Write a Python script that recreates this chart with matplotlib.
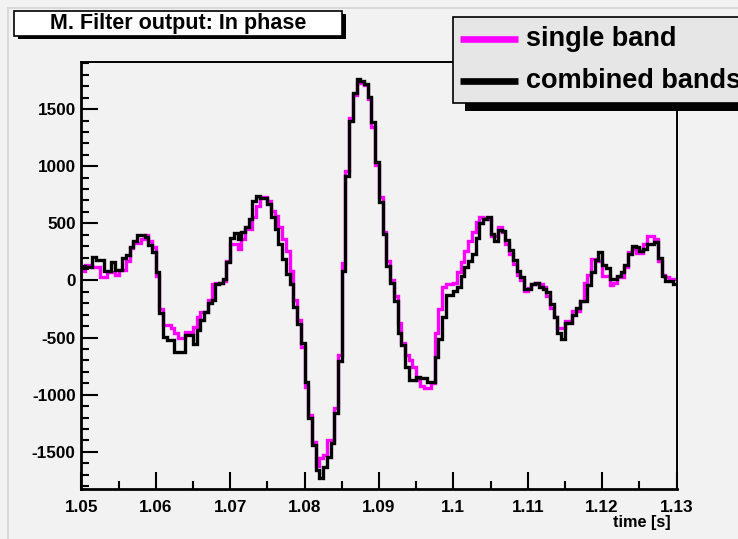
import numpy as np
import matplotlib
matplotlib.use('Agg')
import matplotlib.pyplot as plt
from matplotlib.patches import Rectangle
from matplotlib.lines import Line2D
from matplotlib.ticker import FixedLocator, MultipleLocator, FixedFormatter

# ---------------- data ----------------
t_start, t_stop = 1.05, 1.13
n_bins = 160

combined_bands = [
    123, 114, 114, 202, 175, 175, 79, 79, 158, 96,
    96, 193, 219, 289, 342, 395, 395, 377, 307, 246,
    70, -281, -491, -517, -517, -623, -623, -623, -474, -474,
    -553, -430, -342, -272, -193, -167, -35, -18, 9, 158,
    368, 412, 360, 421, 465, 535, 693, 737, 719, 719,
    667, 552, 447, 316, 184, 61, -35, -228, -377, -544,
    -886, -1201, -1438, -1658, -1728, -1631, -1544, -1421, -1158, -702,
    79, 912, 1394, 1640, 1763, 1745, 1719, 1605, 1386, 1035,
    684, 403, 123, -18, -184, -456, -561, -754, -868, -868,
    -842, -851, -851, -886, -886, -667, -509, -316, -123, -123,
    -96, -61, 35, 114, 167, 228, 368, 500, 535, 552,
    403, 342, 438, 430, 351, 263, 175, 79, 26, -79,
    -79, -35, -26, -61, -79, -105, -202, -316, -456, -509,
    -368, -368, -298, -237, -184, -184, -44, 70, 175, 246,
    132, 105, 9, 9, 35, 70, 132, 228, 298, 289,
    254, 272, 316, 316, 333, 193, 35, -9, -9, -35,
]

single_band = [
    79, 132, 132, 114, 114, 26, 26, 70, 70, 44,
    96, 96, 167, 280, 324, 324, 360, 395, 342, 289,
    35, -254, -386, -386, -412, -456, -500, -500, -447, -447,
    -403, -324, -272, -272, -167, -35, -18, -18, -9, 167,
    316, 316, 272, 360, 447, 447, 552, 649, 728, 728,
    693, 605, 561, 465, 360, 254, 79, -167, -342, -579,
    -930, -1175, -1412, -1622, -1552, -1526, -1394, -1394, -1117, -650,
    150, 960, 1420, 1623, 1728, 1728, 1710, 1587, 1342, 1009,
    728, 421, 167, 4, -140, -368, -544, -650, -693, -754,
    -868, -921, -939, -939, -900, -456, -254, -61, -35, -35,
    -18, 70, 158, 254, 342, 421, 509, 552, 544, 535,
    386, 386, 465, 421, 316, 228, 140, 52, 4, -92,
    -66, -35, -18, -35, -61, -140, -237, -324, -412, -412,
    -351, -360, -263, -263, -184, -18, 52, 184, 184, 167,
    35, 35, -44, -26, 26, 26, 114, 246, 272, 237,
    237, 316, 386, 386, 360, 167, 52, 26, 9, 9,
]

x_tick_values = [1.05, 1.06, 1.07, 1.08, 1.09, 1.10, 1.11, 1.12, 1.13]
x_tick_labels = ['1.05', '1.06', '1.07', '1.08', '1.09', '1.1', '1.11', '1.12', '1.13']
y_tick_values = [-1500, -1000, -500, 0, 500, 1000, 1500]
y_tick_labels = ['-1500', '-1000', '-500', '0', '500', '1000', '1500']
y_range = (-1825, 1912)

title_text = 'M. Filter output: In phase'
legend_labels = ['single band', 'combined bands']
x_label = 'time [s]'
colors = ['#ff00ff', '#000000']

# ---------------- layout ----------------
W, H = 738, 539
BG = '#f2f2f2'
FONT = 'Liberation Sans'

fig = plt.figure(figsize=(W / 100, H / 100), dpi=100, facecolor=BG)

def fx(px):
    return px / W

def fy(py):
    return 1 - py / H

ax_l, ax_r, ax_t, ax_b = 81.3, 676.5, 62.0, 489.0
ax = fig.add_axes([fx(ax_l), fy(ax_b), (ax_r - ax_l) / W, (ax_b - ax_t) / H])
ax.set_facecolor(BG)

edges = np.linspace(t_start, t_stop, n_bins + 1)
ax.stairs(single_band, edges, baseline=None, color=colors[0], lw=2.4)
ax.stairs(combined_bands, edges, baseline=None, color=colors[1], lw=2.4)

ax.set_xlim(t_start, t_stop)
ax.set_ylim(*y_range)

ax.xaxis.set_major_locator(FixedLocator(x_tick_values))
ax.xaxis.set_major_formatter(FixedFormatter(x_tick_labels))
ax.xaxis.set_minor_locator(MultipleLocator(0.005))
ax.yaxis.set_major_locator(FixedLocator(y_tick_values))
ax.yaxis.set_major_formatter(FixedFormatter(y_tick_labels))
ax.yaxis.set_minor_locator(MultipleLocator(100))

ax.tick_params(which='major', direction='in', length=12, width=1.5, colors='black')
ax.tick_params(which='minor', direction='in', length=6, width=1.5, colors='black')
ax.tick_params(axis='x', which='major', pad=8)
ax.tick_params(axis='y', which='major', pad=4)
for lab in ax.get_xticklabels() + ax.get_yticklabels():
    lab.set_fontfamily(FONT)
    lab.set_fontweight('bold')
    lab.set_fontsize(12.3)

ax.spines['left'].set_linewidth(2.0)
ax.spines['bottom'].set_linewidth(2.0)
ax.spines['top'].set_linewidth(1.4)
ax.spines['right'].set_linewidth(1.4)

# x-axis title
fig.text(fx(671), fy(523), x_label, ha='right', va='center',
         fontfamily=FONT, fontweight='bold', fontsize=11.7)

# canvas border lines
fig.add_artist(Line2D([fx(7.5), fx(738)], [fy(7.5), fy(7.5)], color='#d4d4d4', lw=1.2))
fig.add_artist(Line2D([fx(7.5), fx(7.5)], [fy(7.5), fy(539)], color='#d4d4d4', lw=1.2))

# title box
tb_l, tb_t, tb_r, tb_b = 14, 11, 342, 36
fig.add_artist(Rectangle((fx(tb_l + 4), fy(tb_b + 3)), (tb_r - tb_l) / W, (tb_b - tb_t) / H,
                         facecolor='black', edgecolor='none', zorder=5))
fig.add_artist(Rectangle((fx(tb_l), fy(tb_b)), (tb_r - tb_l) / W, (tb_b - tb_t) / H,
                         facecolor='white', edgecolor='black', lw=1.2, zorder=6))
fig.text(fx((tb_l + tb_r) / 2), fy((tb_t + tb_b) / 2 + 0.5), title_text, ha='center', va='center',
         fontfamily=FONT, fontweight='bold', fontsize=15.5, zorder=7)

# legend box
lg_l, lg_t, lg_r, lg_b = 453, 17, 800, 103
fig.add_artist(Rectangle((fx(lg_l + 12), fy(lg_b + 8)), (lg_r - lg_l) / W, (lg_b - lg_t) / H,
                         facecolor='black', edgecolor='none', zorder=5))
fig.add_artist(Rectangle((fx(lg_l), fy(lg_b)), (lg_r - lg_l) / W, (lg_b - lg_t) / H,
                         facecolor='#e6e6e6', edgecolor='black', lw=1.2, zorder=6))
for lab, col, yy in zip(legend_labels, colors, [38.5, 80.5]):
    fig.add_artist(Line2D([fx(460), fx(518)], [fy(yy), fy(yy)], color=col, lw=4.8,
                          solid_capstyle='butt', zorder=7))
    fig.text(fx(526), fy(yy), lab, ha='left', va='center', fontfamily=FONT,
             fontweight='bold', fontsize=19.5, zorder=7)

fig.savefig('out.png', dpi=100, facecolor=BG)
